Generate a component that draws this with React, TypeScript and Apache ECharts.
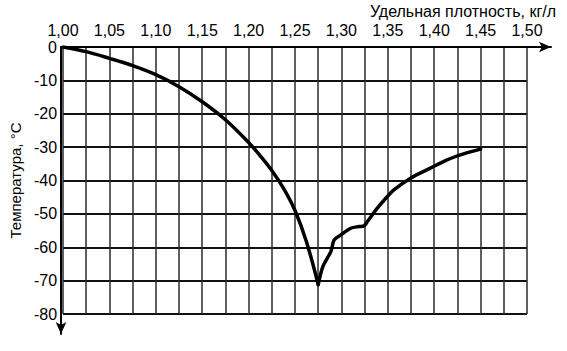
import React, { useEffect, useRef } from "react";
import * as echarts from "echarts";

const densityLeft = [1.0, 1.025, 1.05, 1.075, 1.1, 1.125, 1.15, 1.175, 1.2, 1.2125, 1.225, 1.2375, 1.25, 1.2625, 1.275];
const temperatureLeft = [0, -1.4, -3.4, -5.6, -8.3, -11.9, -16.4, -21.8, -28.6, -32.6, -37, -42.3, -49, -58.5, -71.2];
const densityRight = [1.275, 1.28, 1.2886, 1.2922, 1.2994, 1.3101, 1.319, 1.3244, 1.328, 1.3387, 1.3495, 1.3565, 1.3745, 1.3959, 1.4138, 1.4317, 1.45];
const temperatureRight = [-71.2, -65.8, -61.3, -57.8, -56.3, -54.3, -53.8, -53.6, -52.3, -48.3, -44.8, -42.8, -39.3, -36.3, -33.8, -32, -30.6];

const xName = "Удельная плотность, кг/л";
const yName = "Температура, °C";
const FONT = "'Liberation Sans', Arial, sans-serif";

export default function App() {
  const ref = useRef<HTMLDivElement>(null);
  useEffect(() => {
    if (!ref.current) return;
    const chart = echarts.init(ref.current, null, { renderer: "svg" });
    const curveStyle = { color: "#000", width: 3.5, join: "round", cap: "round" };
    chart.setOption({
      animation: false,
      backgroundColor: "#fff",
      textStyle: { fontFamily: FONT },
      grid: [
        { left: 61, right: 40, top: 47, bottom: 37 },
        { left: 61, right: 16, top: 47, bottom: 17 },
      ],
      xAxis: [
        {
          type: "value",
          gridIndex: 0,
          position: "top",
          min: 1,
          max: 1.5,
          interval: 0.025,
          axisLine: { show: false },
          axisTick: { show: false },
          axisLabel: {
            color: "#000",
            fontSize: 16,
            lineHeight: 14,
            fontFamily: FONT,
            margin: 10,
            formatter: (v: number) =>
              Math.round(v * 40) % 2 === 0 ? v.toFixed(2).replace(".", ",") : "",
          },
          splitLine: { show: true, lineStyle: { color: "#2a2a2a", width: 1.5 } },
        },
        {
          type: "value",
          gridIndex: 1,
          position: "top",
          min: 0,
          max: 1,
          axisLine: {
            show: true,
            onZero: false,
            symbol: ["none", "arrow"],
            symbolSize: [8, 12],
            lineStyle: { color: "#000", width: 2 },
          },
          axisTick: { show: false },
          axisLabel: { show: false },
          splitLine: { show: false },
        },
      ],
      yAxis: [
        {
          type: "value",
          gridIndex: 0,
          min: -80,
          max: 0,
          interval: 10,
          axisLine: { show: false },
          axisTick: { show: false },
          axisLabel: { color: "#000", fontSize: 16, lineHeight: 12, fontFamily: FONT, margin: 6 },
          splitLine: { show: true, lineStyle: { color: "#111", width: 2 } },
          name: yName,
          nameLocation: "middle",
          nameRotate: 90,
          nameGap: 36,
          nameTextStyle: { color: "#000", fontSize: 15, fontFamily: FONT },
        },
        {
          type: "value",
          gridIndex: 1,
          min: 0,
          max: 1,
          axisLine: {
            show: true,
            onZero: false,
            symbol: ["arrow", "none"],
            symbolSize: [8, 12],
            lineStyle: { color: "#000", width: 2 },
          },
          axisTick: { show: false },
          axisLabel: { show: false },
          splitLine: { show: false },
        },
      ],
      graphic: [
        {
          type: "text",
          right: 11,
          top: 3,
          style: { text: xName, fill: "#000", font: `16px ${FONT}` },
        },
      ],
      series: [
        {
          type: "line",
          xAxisIndex: 0,
          yAxisIndex: 0,
          data: densityLeft.map((d, i) => [d, temperatureLeft[i]]),
          showSymbol: false,
          symbol: "none",
          smooth: 0.35,
          lineStyle: curveStyle,
        },
        {
          type: "line",
          xAxisIndex: 0,
          yAxisIndex: 0,
          data: densityRight.map((d, i) => [d, temperatureRight[i]]),
          showSymbol: false,
          symbol: "none",
          smooth: 0.3,
          lineStyle: curveStyle,
        },
      ],
    });
    return () => chart.dispose();
  }, []);
  return <div ref={ref} style={{ width: 567, height: 351, position: "absolute", left: 0, top: 0 }} />;
}
